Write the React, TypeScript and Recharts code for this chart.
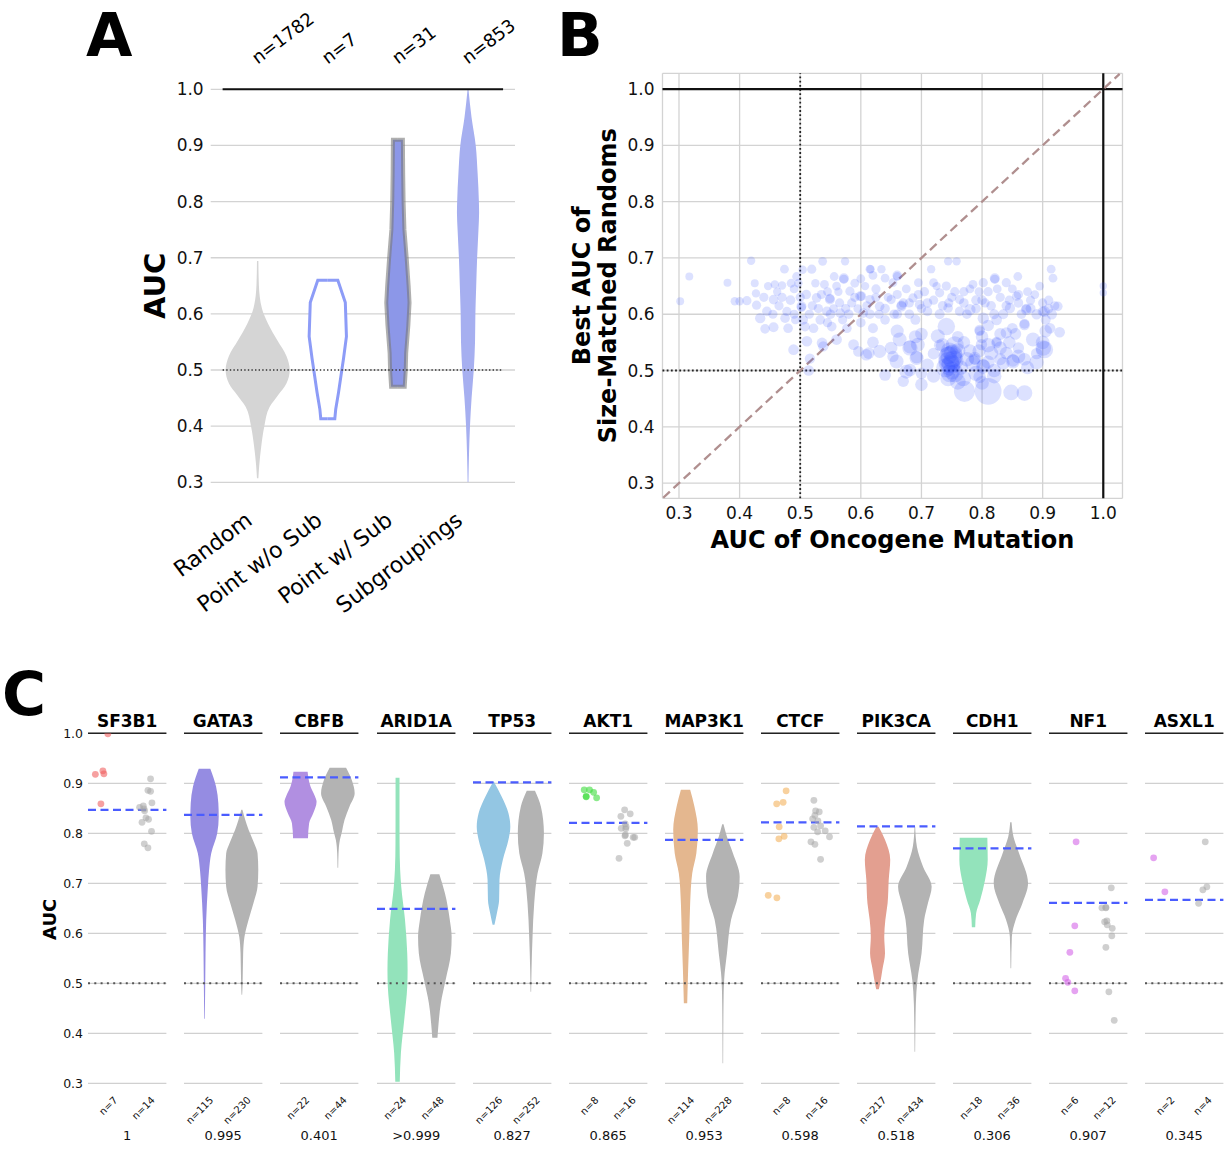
import React from 'react';
import {
  ComposedChart,
  ScatterChart,
  Area,
  Scatter,
  XAxis,
  YAxis,
  ZAxis,
  CartesianGrid,
  ReferenceLine,
  Label,
} from 'recharts';

const FONT = '"DejaVu Sans", "Liberation Sans", sans-serif';
const AUC_TICKS = [0.3, 0.4, 0.5, 0.6, 0.7, 0.8, 0.9, 1.0];

// ---------------- Panel A data ----------------
const A_CATEGORIES = ['Random', 'Point w/o Sub', 'Point w/ Sub', 'Subgroupings'];
const A_COUNTS = ['n=1782', 'n=7', 'n=31', 'n=853'];
// [AUC, half-width (category units)]
const A_RANDOM = [
  [0.694, 0.01], [0.652, 0.017], [0.61, 0.06], [0.582, 0.15], [0.553, 0.28], [0.525, 0.41],
  [0.5, 0.457], [0.476, 0.41], [0.455, 0.29], [0.434, 0.17], [0.4, 0.095], [0.363, 0.05],
  [0.33, 0.022], [0.307, 0.01],
];
const A_POINT_NOSUB = [
  [0.66, 0], [0.66, 0.143], [0.62, 0.25], [0.56, 0.266], [0.52, 0.224], [0.5, 0.2],
  [0.46, 0.153], [0.43, 0.113], [0.413, 0.1], [0.413, 0],
];
const A_POINT_SUB = [
  [0.91, 0], [0.91, 0.071], [0.85, 0.075], [0.8, 0.081], [0.75, 0.093], [0.7, 0.125],
  [0.65, 0.153], [0.62, 0.166], [0.58, 0.149], [0.53, 0.118], [0.5, 0.112], [0.47, 0.097], [0.47, 0],
];
const A_SUBGROUPINGS = [
  [1.0, 0.006], [0.95, 0.05], [0.9, 0.11], [0.85, 0.137], [0.8, 0.155], [0.78, 0.158],
  [0.75, 0.149], [0.7, 0.13], [0.65, 0.117], [0.6, 0.105], [0.55, 0.1], [0.5, 0.082],
  [0.45, 0.051], [0.4, 0.028], [0.35, 0.014], [0.3, 0.006],
];

// ---------------- Panel B data ----------------
const B_X_TICKS = [0.3, 0.4, 0.5, 0.6, 0.7, 0.8, 0.9, 1.0];
const B_X_LABEL = 'AUC of Oncogene Mutation';
const B_Y_LABEL = ['Best AUC of', 'Size-Matched Randoms'];
// [AUC of oncogene mutation, best AUC of size-matched randoms, subgrouping size]
const B_POINTS = [
  [0.302, 0.623, 5], [0.317, 0.667, 5], [0.38, 0.656, 5], [0.392, 0.623, 6], [0.4, 0.623, 6],
  [0.412, 0.624, 8], [0.419, 0.695, 6], [0.425, 0.655, 5], [0.427, 0.637, 6], [0.428, 0.616, 8],
  [0.434, 0.593, 11], [0.442, 0.574, 9], [0.445, 0.605, 9], [0.447, 0.65, 6], [0.456, 0.577, 10],
  [0.456, 0.626, 9], [0.458, 0.653, 6], [0.474, 0.68, 7], [0.47, 0.651, 6], [0.475, 0.593, 9],
  [0.48, 0.575, 9], [0.484, 0.625, 9], [0.489, 0.537, 12], [0.494, 0.667, 7], [0.502, 0.614, 10],
  [0.502, 0.612, 8], [0.504, 0.679, 6], [0.508, 0.578, 9], [0.511, 0.552, 12], [0.514, 0.5, 12],
  [0.516, 0.521, 11], [0.519, 0.68, 8], [0.522, 0.575, 9], [0.527, 0.629, 9], [0.537, 0.694, 7],
  [0.536, 0.549, 12], [0.538, 0.543, 11], [0.54, 0.653, 7], [0.544, 0.605, 9], [0.549, 0.626, 10],
  [0.549, 0.628, 8], [0.552, 0.578, 9], [0.556, 0.667, 7], [0.56, 0.555, 12], [0.566, 0.602, 9],
  [0.572, 0.664, 10], [0.572, 0.662, 8], [0.574, 0.694, 6], [0.577, 0.575, 9], [0.582, 0.641, 8],
  [0.588, 0.546, 12], [0.596, 0.534, 12], [0.599, 0.632, 10], [0.6, 0.663, 7], [0.604, 0.602, 9],
  [0.613, 0.531, 15], [0.615, 0.68, 7],
  [0.465, 0.615, 8], [0.49, 0.645, 7], [0.51, 0.635, 9], [0.53, 0.61, 8], [0.545, 0.64, 7],
  [0.565, 0.62, 8], [0.58, 0.6, 9], [0.59, 0.655, 7], [0.6, 0.585, 9], [0.615, 0.6, 9],
  [0.625, 0.645, 8], [0.62, 0.575, 10], [0.64, 0.59, 9], [0.655, 0.6, 9], [0.66, 0.635, 8],
  [0.675, 0.645, 7], [0.68, 0.6, 9], [0.69, 0.59, 10], [0.705, 0.64, 8], [0.71, 0.605, 9],
  [0.72, 0.625, 8], [0.73, 0.6, 10], [0.755, 0.64, 8], [0.77, 0.62, 9], [0.78, 0.645, 7],
  [0.79, 0.625, 9], [0.81, 0.64, 8], [0.815, 0.615, 9], [0.83, 0.63, 8], [0.835, 0.6, 10],
  [0.85, 0.645, 7], [0.86, 0.62, 9], [0.88, 0.625, 8], [0.89, 0.6, 11], [0.895, 0.65, 7],
  [0.91, 0.61, 9], [0.915, 0.6, 11], [0.92, 0.615, 8],
  [0.462, 0.64, 6], [0.478, 0.605, 8], [0.492, 0.59, 7], [0.497, 0.655, 6], [0.515, 0.6, 8],
  [0.525, 0.655, 6], [0.533, 0.59, 9], [0.555, 0.61, 7], [0.563, 0.64, 6], [0.585, 0.62, 8],
  [0.595, 0.61, 7], [0.607, 0.65, 6], [0.63, 0.6, 8], [0.645, 0.63, 7], [0.67, 0.62, 8],
  [0.7, 0.61, 8], [0.725, 0.65, 6], [0.745, 0.62, 8], [0.775, 0.6, 9], [0.795, 0.64, 7],
  [0.805, 0.62, 8], [0.825, 0.645, 7], [0.845, 0.625, 8], [0.865, 0.6, 9], [0.875, 0.64, 7],
  [0.9, 0.62, 8], [0.905, 0.59, 10], [0.545, 0.585, 8], [0.49, 0.6, 8], [0.57, 0.59, 8],
  [0.44, 0.63, 8], [0.455, 0.6, 8], [0.47, 0.63, 8], [0.485, 0.655, 7], [0.5, 0.63, 8],
  [0.505, 0.59, 9], [0.52, 0.615, 8], [0.535, 0.635, 8], [0.55, 0.6, 9], [0.56, 0.65, 7],
  [0.575, 0.61, 8], [0.59, 0.63, 8], [0.61, 0.615, 8], [0.625, 0.63, 8], [0.64, 0.61, 9],
  [0.66, 0.6, 9], [0.68, 0.62, 8], [0.695, 0.635, 8], [0.71, 0.62, 9], [0.735, 0.615, 9],
  [0.75, 0.63, 8], [0.77, 0.64, 8], [0.79, 0.61, 9], [0.8, 0.625, 9], [0.82, 0.6, 10],
  [0.84, 0.615, 9], [0.86, 0.635, 8], [0.88, 0.61, 10], [0.9, 0.605, 10], [0.91, 0.625, 8],
  [0.616, 0.68, 6], [0.634, 0.68, 6], [0.62, 0.669, 7], [0.64, 0.664, 7], [0.66, 0.669, 9],
  [0.66, 0.667, 7], [0.653, 0.656, 7], [0.601, 0.632, 9], [0.615, 0.626, 8], [0.631, 0.614, 9],
  [0.65, 0.626, 8], [0.667, 0.614, 11], [0.667, 0.616, 9], [0.686, 0.629, 8], [0.697, 0.617, 9],
  [0.695, 0.656, 7], [0.716, 0.68, 6], [0.72, 0.656, 7], [0.741, 0.65, 8], [0.744, 0.694, 6],
  [0.758, 0.694, 6], [0.73, 0.638, 8], [0.763, 0.626, 8], [0.744, 0.611, 9], [0.763, 0.605, 9],
  [0.785, 0.653, 7], [0.802, 0.656, 8], [0.821, 0.664, 10], [0.821, 0.662, 8], [0.84, 0.656, 8],
  [0.859, 0.667, 7], [0.857, 0.632, 8], [0.846, 0.611, 11], [0.873, 0.608, 12], [0.873, 0.61, 9],
  [0.887, 0.635, 7], [0.903, 0.605, 12], [0.914, 0.68, 7], [0.917, 0.664, 7], [0.925, 0.614, 9],
  [0.928, 0.568, 12], [0.912, 0.575, 12], [0.87, 0.581, 12], [0.87, 0.583, 10], [0.84, 0.567, 14],
  [0.824, 0.59, 12], [0.802, 0.593, 14], [0.78, 0.608, 14],
  [0.741, 0.578, 38], [0.727, 0.561, 23], [0.681, 0.54, 28], [0.681, 0.542, 20], [0.694, 0.546, 23],
  [0.664, 0.555, 23], [0.631, 0.534, 20], [0.609, 0.528, 15], [0.659, 0.516, 23], [0.692, 0.522, 23],
  [0.692, 0.524, 18], [0.675, 0.498, 23], [0.64, 0.492, 15], [0.7, 0.495, 15],
  [0.747, 0.522, 70], [0.75, 0.525, 60], [0.745, 0.515, 55], [0.752, 0.53, 45], [0.748, 0.508, 50],
  [0.75, 0.5, 40], [0.746, 0.535, 35], [0.753, 0.518, 50], [0.744, 0.527, 40], [0.749, 0.512, 45],
  [0.747, 0.495, 40], [0.744, 0.486, 30], [0.769, 0.486, 30], [0.771, 0.463, 57], [0.81, 0.463, 94],
  [0.848, 0.461, 30], [0.87, 0.46, 30], [0.785, 0.513, 30], [0.802, 0.507, 25], [0.802, 0.509, 18],
  [0.788, 0.522, 18], [0.788, 0.52, 14], [0.815, 0.531, 23], [0.824, 0.549, 12], [0.824, 0.551, 10],
  [0.84, 0.531, 18], [0.851, 0.516, 23], [0.851, 0.518, 18], [0.835, 0.513, 18], [0.884, 0.555, 23],
  [0.901, 0.54, 30], [0.903, 0.537, 37], [0.799, 0.546, 14], [0.796, 0.572, 12], [0.796, 0.57, 10],
  [0.681, 0.501, 18], [0.653, 0.525, 14], [0.67, 0.481, 14], [0.796, 0.489, 18],
  [0.72, 0.53, 15], [0.71, 0.51, 18], [0.73, 0.545, 14], [0.77, 0.55, 18], [0.78, 0.535, 20],
  [0.76, 0.56, 15], [0.82, 0.5, 22], [0.83, 0.52, 16], [0.86, 0.54, 14], [0.87, 0.52, 18],
  [0.89, 0.53, 14], [0.81, 0.58, 15], [0.85, 0.575, 12], [0.765, 0.505, 25], [0.79, 0.495, 28],
  [0.8, 0.478, 22], [0.72, 0.49, 20],
  [0.66, 0.57, 20], [0.7, 0.565, 18], [0.735, 0.545, 22], [0.76, 0.535, 28], [0.775, 0.52, 25],
  [0.795, 0.535, 20], [0.81, 0.545, 25], [0.83, 0.54, 20], [0.845, 0.55, 18], [0.86, 0.525, 22],
  [0.875, 0.505, 20], [0.89, 0.515, 25], [0.9, 0.55, 22], [0.905, 0.57, 18], [0.81, 0.515, 20],
  [0.8, 0.56, 18], [0.83, 0.565, 16], [0.855, 0.565, 15], [0.82, 0.49, 25], [0.76, 0.48, 30],
  [0.7, 0.475, 18], [0.69, 0.56, 20], [0.65, 0.54, 18], [0.62, 0.55, 15], [0.755, 0.545, 40],
  [0.74, 0.505, 45], [0.755, 0.495, 40],
  [1.0, 0.65, 4], [1.0, 0.638, 4],
];

// ---------------- Panel C data ----------------
const GENES = ['SF3B1', 'GATA3', 'CBFB', 'ARID1A', 'TP53', 'AKT1', 'MAP3K1', 'CTCF', 'PIK3CA', 'CDH1', 'NF1', 'ASXL1'];
const GENE_N = [[7, 14], [115, 230], [22, 44], [24, 48], [126, 252], [8, 16], [114, 228], [8, 16], [217, 434], [18, 36], [6, 12], [2, 4]];
const GENE_P = ['1', '0.995', '0.401', '>0.999', '0.827', '0.865', '0.953', '0.598', '0.518', '0.306', '0.907', '0.345'];
const GENE_BEST_RANDOM = [0.847, 0.837, 0.912, 0.649, 0.902, 0.821, 0.787, 0.822, 0.814, 0.77, 0.661, 0.667];
const GENE_COLORS = ['#f06060', '#958ce2', '#b18fe1', '#93e3bb', '#93c6e3', '#3ddc3d', '#e4b78f', '#f4b25e', '#e39f90', '#93e3bb', '#d366e8', '#d366e8'];

const GATA3_MUT = [[0.929, 0.155], [0.893, 0.31], [0.86, 0.37], [0.833, 0.38], [0.8, 0.34], [0.76, 0.18], [0.725, 0.12], [0.693, 0.09], [0.627, 0.045], [0.56, 0.027], [0.493, 0.018], [0.429, 0.008]];
const GATA3_CTRL = [[0.847, 0.015], [0.827, 0.09], [0.807, 0.18], [0.78, 0.33], [0.76, 0.42], [0.727, 0.44], [0.693, 0.42], [0.66, 0.31], [0.627, 0.18], [0.593, 0.07], [0.56, 0.035], [0.493, 0.018], [0.477, 0.008]];
const CBFB_MUT = [[0.923, 0.19], [0.893, 0.27], [0.875, 0.38], [0.863, 0.43], [0.84, 0.34], [0.82, 0.23], [0.79, 0.2]];
const CBFB_CTRL = [[0.931, 0.22], [0.905, 0.38], [0.88, 0.45], [0.853, 0.31], [0.827, 0.18], [0.8, 0.1], [0.787, 0.055], [0.76, 0.018], [0.731, 0.009]];
const ARID1A_MUT = [[0.911, 0.053], [0.85, 0.053], [0.78, 0.055], [0.727, 0.07], [0.693, 0.1], [0.627, 0.2], [0.56, 0.26], [0.527, 0.27], [0.493, 0.26], [0.427, 0.18], [0.36, 0.09], [0.303, 0.06]];
const ARID1A_CTRL = [[0.718, 0.12], [0.68, 0.27], [0.627, 0.4], [0.593, 0.45], [0.56, 0.43], [0.507, 0.29], [0.46, 0.16], [0.42, 0.1], [0.391, 0.07]];
const TP53_MUT = [[0.903, 0.01], [0.873, 0.22], [0.84, 0.4], [0.813, 0.45], [0.787, 0.4], [0.747, 0.25], [0.707, 0.16], [0.667, 0.15], [0.64, 0.09], [0.617, 0.025]];
const TP53_CTRL = [[0.885, 0.11], [0.853, 0.27], [0.8, 0.35], [0.76, 0.31], [0.72, 0.18], [0.66, 0.09], [0.593, 0.045], [0.527, 0.018], [0.483, 0.008]];
const MAP3K1_MUT = [[0.887, 0.124], [0.853, 0.24], [0.807, 0.33], [0.76, 0.29], [0.72, 0.18], [0.66, 0.124], [0.593, 0.1], [0.527, 0.07], [0.46, 0.045]];
const MAP3K1_CTRL = [[0.818, 0.018], [0.793, 0.11], [0.76, 0.27], [0.713, 0.45], [0.673, 0.4], [0.627, 0.22], [0.56, 0.11], [0.507, 0.035], [0.46, 0.018], [0.34, 0.008]];
const PIK3CA_MUT = [[0.813, 0.03], [0.787, 0.2], [0.747, 0.34], [0.707, 0.3], [0.66, 0.27], [0.627, 0.21], [0.593, 0.18], [0.56, 0.2], [0.527, 0.13], [0.5, 0.07], [0.488, 0.035]];
const PIK3CA_CTRL = [[0.813, 0.009], [0.773, 0.055], [0.733, 0.22], [0.693, 0.45], [0.66, 0.35], [0.627, 0.25], [0.56, 0.18], [0.507, 0.07], [0.46, 0.027], [0.363, 0.008]];
const CDH1_MUT = [[0.791, 0.37], [0.747, 0.38], [0.707, 0.31], [0.667, 0.18], [0.64, 0.07], [0.612, 0.045]];
const CDH1_CTRL = [[0.822, 0.018], [0.793, 0.07], [0.76, 0.22], [0.7, 0.46], [0.66, 0.31], [0.627, 0.13], [0.593, 0.027], [0.53, 0.009]];

const SF3B1_MUT_PTS = [[-0.018, 0.999], [-0.353, 0.918], [-0.151, 0.925], [-0.124, 0.919], [-0.204, 0.859]];
const SF3B1_CTRL_PTS = [[1.126, 0.909], [1.056, 0.886], [1.126, 0.884], [1.163, 0.861], [0.833, 0.852], [0.931, 0.855], [0.966, 0.845], [1.003, 0.831], [1.072, 0.828], [0.897, 0.822], [1.152, 0.804], [0.958, 0.779], [1.056, 0.771], [0.95, 0.849]];
const AKT1_MUT_PTS = [[-0.143, 0.887], [0.0, 0.887], [0.11, 0.882], [-0.09, 0.873], [-0.09, 0.874], [0.19, 0.871]];
const AKT1_CTRL_PTS = [[0.94, 0.847], [1.09, 0.839], [0.84, 0.834], [0.955, 0.819], [0.85, 0.81], [0.97, 0.809], [0.95, 0.795], [1.17, 0.792], [1.21, 0.792], [1.01, 0.78], [0.79, 0.75], [0.96, 0.797], [0.98, 0.813]];
const CTCF_MUT_PTS = [[0.123, 0.885], [-0.13, 0.859], [0.043, 0.862], [-0.063, 0.813], [-0.071, 0.789], [0.07, 0.794], [-0.356, 0.676], [-0.124, 0.671]];
const CTCF_CTRL_PTS = [[0.867, 0.866], [0.913, 0.845], [1.01, 0.843], [0.833, 0.829], [0.894, 0.836], [0.974, 0.825], [1.046, 0.815], [0.867, 0.812], [0.966, 0.803], [1.17, 0.805], [1.285, 0.793], [0.788, 0.783], [0.894, 0.778], [1.046, 0.748]];
const NF1_MUT_PTS = [[0.176, 0.783], [0.141, 0.615], [0.009, 0.562], [-0.106, 0.51], [-0.045, 0.502], [0.141, 0.485]];
const NF1_CTRL_PTS = [[1.118, 0.691], [0.868, 0.651], [0.974, 0.651], [0.94, 0.623], [1.0, 0.625], [1.01, 0.617], [1.144, 0.61], [1.133, 0.595], [0.974, 0.572], [1.054, 0.483], [1.197, 0.426], [0.974, 0.652]];
const ASXL1_MUT_PTS = [[-0.319, 0.751], [-0.018, 0.683]];
const ASXL1_CTRL_PTS = [[1.064, 0.783], [1.107, 0.693], [1.0, 0.687], [0.886, 0.66]];

const GENE_MUT_VIOLIN = [null, GATA3_MUT, CBFB_MUT, ARID1A_MUT, TP53_MUT, null, MAP3K1_MUT, null, PIK3CA_MUT, CDH1_MUT, null, null];
const GENE_CTRL_VIOLIN = [null, GATA3_CTRL, CBFB_CTRL, ARID1A_CTRL, TP53_CTRL, null, MAP3K1_CTRL, null, PIK3CA_CTRL, CDH1_CTRL, null, null];
const GENE_MUT_POINTS = [SF3B1_MUT_PTS, null, null, null, null, AKT1_MUT_PTS, null, CTCF_MUT_PTS, null, null, NF1_MUT_PTS, ASXL1_MUT_PTS];
const GENE_CTRL_POINTS = [SF3B1_CTRL_PTS, null, null, null, null, AKT1_CTRL_PTS, null, CTCF_CTRL_PTS, null, null, NF1_CTRL_PTS, ASXL1_CTRL_PTS];

// ---------------- helpers ----------------
type Violin = { key: string; center: number; profile: number[][] };
function buildViolinRows(violins: Violin[]) {
  const keys = violins.map((v) => v.key);
  const rows: any[] = [];
  violins.forEach((v) => {
    v.profile.forEach(([y, w]) => {
      const row: any = { y };
      keys.forEach((k) => {
        row[k] = [null, null];
      });
      row[v.key] = [v.center - w, v.center + w];
      rows.push(row);
    });
  });
  return rows;
}
const fmt1 = (v: number) => v.toFixed(1);

// ---------------- Panel A ----------------
const A_ROWS = buildViolinRows([
  { key: 'random', center: 0, profile: A_RANDOM },
  { key: 'nosub', center: 1, profile: A_POINT_NOSUB },
  { key: 'sub', center: 2, profile: A_POINT_SUB },
  { key: 'subgroupings', center: 3, profile: A_SUBGROUPINGS },
]);

const ACatTick = (p: any) => {
  const tx = p.x - 4;
  const ty = p.y + 40.7;
  return (
    <text x={tx} y={ty} transform={`rotate(-37 ${tx} ${ty})`} textAnchor="end" fontSize={22} fill="#000">
      {A_CATEGORIES[Math.round(p.payload.value)]}
    </text>
  );
};
const ACountTick = (p: any) => {
  const tx = p.x;
  const ty = p.y - 24.5;
  return (
    <text x={tx} y={ty} transform={`rotate(-37 ${tx} ${ty})`} textAnchor="start" fontSize={18} fill="#000">
      {A_COUNTS[Math.round(p.payload.value)]}
    </text>
  );
};
const AAucLabel = (props: any) => {
  const vb = props.viewBox;
  const x = vb.x + 14.8;
  const y = vb.y + vb.height / 2;
  return (
    <text x={x} y={y} transform={`rotate(-90 ${x} ${y})`} textAnchor="middle" fontSize={29} fontWeight="bold" fill="#000">
      AUC
    </text>
  );
};

function PanelA() {
  return (
    <ComposedChart
      layout="vertical"
      width={560}
      height={640}
      data={A_ROWS}
      margin={{ top: 59.3, right: 45, bottom: 117.7, left: 150.7 }}
    >
      <CartesianGrid xAxisId="bottom" horizontal vertical={false} stroke="#d3d3d3" strokeWidth={1.3} />
      <XAxis
        xAxisId="bottom"
        type="number"
        dataKey="x"
        domain={[-0.67, 3.67]}
        ticks={[0, 1, 2, 3]}
        interval={0}
        allowDataOverflow
        axisLine={false}
        tickLine={false}
        tickSize={0}
        tickMargin={0}
        height={40}
        tick={ACatTick}
      />
      <XAxis
        xAxisId="top"
        orientation="top"
        type="number"
        dataKey="x"
        domain={[-0.67, 3.67]}
        ticks={[0, 1, 2, 3]}
        interval={0}
        allowDataOverflow
        axisLine={false}
        tickLine={false}
        tickSize={0}
        tickMargin={0}
        height={30}
        tick={ACountTick}
      />
      <YAxis
        type="number"
        dataKey="y"
        domain={[0.3, 1.0]}
        ticks={AUC_TICKS}
        interval={0}
        reversed
        allowDataOverflow
        axisLine={false}
        tickLine={false}
        tickSize={0}
        tickMargin={7}
        width={60}
        tickFormatter={fmt1}
        tick={{ fill: '#111', fontSize: 17 }}
      >
        <Label content={AAucLabel} />
      </YAxis>
      <Area xAxisId="bottom" dataKey="random" type="monotone" fill="#d5d5d5" fillOpacity={1} stroke="none" isAnimationActive={false} />
      <Area xAxisId="bottom" dataKey="nosub" type="linear" fill="#ffffff" fillOpacity={1} stroke="#8d9cf7" strokeWidth={3} isAnimationActive={false} />
      <Area xAxisId="bottom" dataKey="sub" type="linear" fill="#8c97e8" fillOpacity={1} stroke="#7a7a7a" strokeOpacity={0.6} strokeWidth={4} isAnimationActive={false} />
      <Area xAxisId="bottom" dataKey="subgroupings" type="monotone" fill="#a6aff0" fillOpacity={1} stroke="none" isAnimationActive={false} />
      <ReferenceLine xAxisId="bottom" segment={[{ x: -0.5, y: 1 }, { x: 3.5, y: 1 }]} stroke="#111" strokeWidth={2} />
      <ReferenceLine xAxisId="bottom" segment={[{ x: -0.5, y: 0.5 }, { x: 3.5, y: 0.5 }]} stroke="#333" strokeWidth={1.4} strokeDasharray="1.4 2.2" />
    </ComposedChart>
  );
}

// ---------------- Panel B ----------------
const B_DATA = B_POINTS.map(([x, y, n]) => ({ x, y, n }));
const BYLabel = (props: any) => {
  const vb = props.viewBox;
  const cy = vb.y + vb.height / 2;
  const x1 = vb.x - 2.7;
  const x2 = vb.x + 23.5;
  return (
    <g>
      <text x={x1} y={cy} transform={`rotate(-90 ${x1} ${cy})`} textAnchor="middle" fontSize={24} fontWeight="bold" fill="#000">
        {B_Y_LABEL[0]}
      </text>
      <text x={x2} y={cy} transform={`rotate(-90 ${x2} ${cy})`} textAnchor="middle" fontSize={24} fontWeight="bold" fill="#000">
        {B_Y_LABEL[1]}
      </text>
    </g>
  );
};

function PanelB() {
  return (
    <ScatterChart width={600} height={600} margin={{ top: 73.3, right: 37.5, bottom: 41.7, left: 32.5 }}>
      <CartesianGrid stroke="#d3d3d3" strokeWidth={1.3} />
      <XAxis
        type="number"
        dataKey="x"
        domain={[0.2728, 1.0317]}
        ticks={B_X_TICKS}
        interval={0}
        allowDataOverflow
        axisLine={false}
        tickLine={false}
        tickSize={0}
        tickMargin={9}
        height={60}
        tickFormatter={fmt1}
        tick={{ fill: '#111', fontSize: 17 }}
      >
        <Label value={B_X_LABEL} position="insideBottom" offset={10} fill="#000" fontSize={24} fontWeight="bold" />
      </XAxis>
      <YAxis
        type="number"
        dataKey="y"
        domain={[0.273, 1.028]}
        ticks={AUC_TICKS}
        interval={0}
        allowDataOverflow
        axisLine={false}
        tickLine={false}
        tickSize={0}
        tickMargin={8}
        width={70}
        tickFormatter={fmt1}
        tick={{ fill: '#111', fontSize: 17 }}
      >
        <Label content={BYLabel} />
      </YAxis>
      <ZAxis type="number" dataKey="n" domain={[0, 100]} range={[20, 600]} />
      <Scatter data={B_DATA} fill="#2445ff" fillOpacity={0.16} isAnimationActive={false} />
      <ReferenceLine y={0.5} stroke="#222" strokeWidth={1.8} strokeDasharray="1.8 2.4" />
      <ReferenceLine x={0.5} stroke="#222" strokeWidth={1.8} strokeDasharray="1.8 2.4" />
      <ReferenceLine y={1} stroke="#111" strokeWidth={2.2} />
      <ReferenceLine x={1} stroke="#111" strokeWidth={2.2} />
      <ReferenceLine
        segment={[{ x: 0.274, y: 0.274 }, { x: 1.027, y: 1.027 }]}
        ifOverflow="visible"
        stroke="#b08f8f"
        strokeWidth={2.3}
        strokeDasharray="9 5"
      />
    </ScatterChart>
  );
}

// ---------------- Panel C ----------------
const CAucLabel = (props: any) => {
  const vb = props.viewBox;
  const x = vb.x + 27.7;
  const y = vb.y + vb.height / 2 + 11;
  return (
    <text x={x} y={y} transform={`rotate(-90 ${x} ${y})`} textAnchor="middle" fontSize={18} fontWeight="bold" fill="#000">
      AUC
    </text>
  );
};

function GenePanel({ i }: { i: number }) {
  const first = i === 0;
  const yw = first ? 60 : 0;
  const plotLeft = 88.3 + 96.07 * i;
  const left = plotLeft - 8 - yw;
  const width = 8 + yw + 78.4 + 9;
  const violins: Violin[] = [];
  if (GENE_MUT_VIOLIN[i]) violins.push({ key: 'mut', center: 0, profile: GENE_MUT_VIOLIN[i] as number[][] });
  if (GENE_CTRL_VIOLIN[i]) violins.push({ key: 'ctrl', center: 1, profile: GENE_CTRL_VIOLIN[i] as number[][] });
  const rows = violins.length ? buildViolinRows(violins) : [];
  const mutPts = (GENE_MUT_POINTS[i] || []).map(([x, y]) => ({ x, y }));
  const ctrlPts = (GENE_CTRL_POINTS[i] || []).map(([x, y]) => ({ x, y }));
  const color = GENE_COLORS[i];
  const nTick = (p: any) => {
    const tx = p.x + 9.6;
    const ty = p.y + 17.5;
    return (
      <text x={tx} y={ty} transform={`rotate(-45 ${tx} ${ty})`} textAnchor="end" fontSize={10} fill="#111">
        {`n=${GENE_N[i][Math.round(p.payload.value)]}`}
      </text>
    );
  };
  const dot = (fill: string, op: number) => (p: any) => (
    <circle cx={p.cx} cy={p.cy} r={3.4} fill={fill} fillOpacity={op} />
  );
  return (
    <div style={{ position: 'absolute', left, top: 700 }}>
      <ComposedChart
        layout="vertical"
        width={width}
        height={449}
        data={rows}
        margin={{ top: 33.3, right: 9, bottom: 8.7, left: 8 }}
      >
        <CartesianGrid horizontal vertical={false} stroke="#d0d0d0" strokeWidth={1.2} />
        <XAxis
          type="number"
          dataKey="x"
          domain={[-0.55, 1.55]}
          ticks={[0, 1]}
          interval={0}
          allowDataOverflow
          axisLine={false}
          tickLine={false}
          tickSize={0}
          tickMargin={0}
          height={57}
          tick={nTick}
        >
          <Label value={GENE_P[i]} position="insideBottom" offset={0} fill="#111" fontSize={13} />
        </XAxis>
        <YAxis
          type="number"
          dataKey="y"
          domain={[0.3, 1.0]}
          ticks={AUC_TICKS}
          interval={0}
          reversed
          allowDataOverflow
          hide={!first}
          axisLine={false}
          tickLine={false}
          tickSize={0}
          tickMargin={5}
          width={60}
          tickFormatter={fmt1}
          tick={{ fill: '#111', fontSize: 12.5 }}
        >
          {first ? <Label content={CAucLabel} /> : null}
        </YAxis>
        {GENE_MUT_VIOLIN[i] ? (
          <Area dataKey="mut" type="monotone" fill={color} fillOpacity={1} stroke="none" isAnimationActive={false} />
        ) : null}
        {GENE_CTRL_VIOLIN[i] ? (
          <Area dataKey="ctrl" type="monotone" fill="#b3b3b3" fillOpacity={1} stroke="none" isAnimationActive={false} />
        ) : null}
        {mutPts.length ? (
          <Scatter data={mutPts} shape={dot(color, 0.6)} isAnimationActive={false} />
        ) : null}
        {ctrlPts.length ? (
          <Scatter data={ctrlPts} shape={dot('#a8a8a8', 0.55)} isAnimationActive={false} />
        ) : null}
        <ReferenceLine y={0.5} stroke="#555" strokeWidth={2} strokeDasharray="2 4.3" />
        <ReferenceLine y={GENE_BEST_RANDOM[i]} stroke="#4a5cff" strokeWidth={2.2} strokeDasharray="8 4.5" />
        <ReferenceLine
          y={1}
          stroke="#222"
          strokeWidth={1.6}
          label={{ value: GENES[i], position: 'top', offset: 6, fill: '#000', fontSize: 17, fontWeight: 'bold' }}
        />
      </ComposedChart>
    </div>
  );
}

export default function App() {
  return (
    <div
      style={{
        position: 'absolute',
        left: 0,
        top: 0,
        width: 1225,
        height: 1149,
        background: '#ffffff',
        fontFamily: FONT,
        overflow: 'hidden',
      }}
    >
      <svg width={1225} height={1149} style={{ position: 'absolute', left: 0, top: 0 }}>
        <text x={86} y={55.5} fontSize={60} fontWeight="bold" fill="#000">A</text>
        <text x={557} y={56} fontSize={60} fontWeight="bold" fill="#000">B</text>
        <text x={2} y={715} fontSize={60} fontWeight="bold" fill="#000">C</text>
      </svg>
      <div style={{ position: 'absolute', left: 0, top: 0 }}>
        <PanelA />
      </div>
      <div style={{ position: 'absolute', left: 560, top: 0 }}>
        <PanelB />
      </div>
      {GENES.map((g, i) => (
        <GenePanel key={g} i={i} />
      ))}
    </div>
  );
}
